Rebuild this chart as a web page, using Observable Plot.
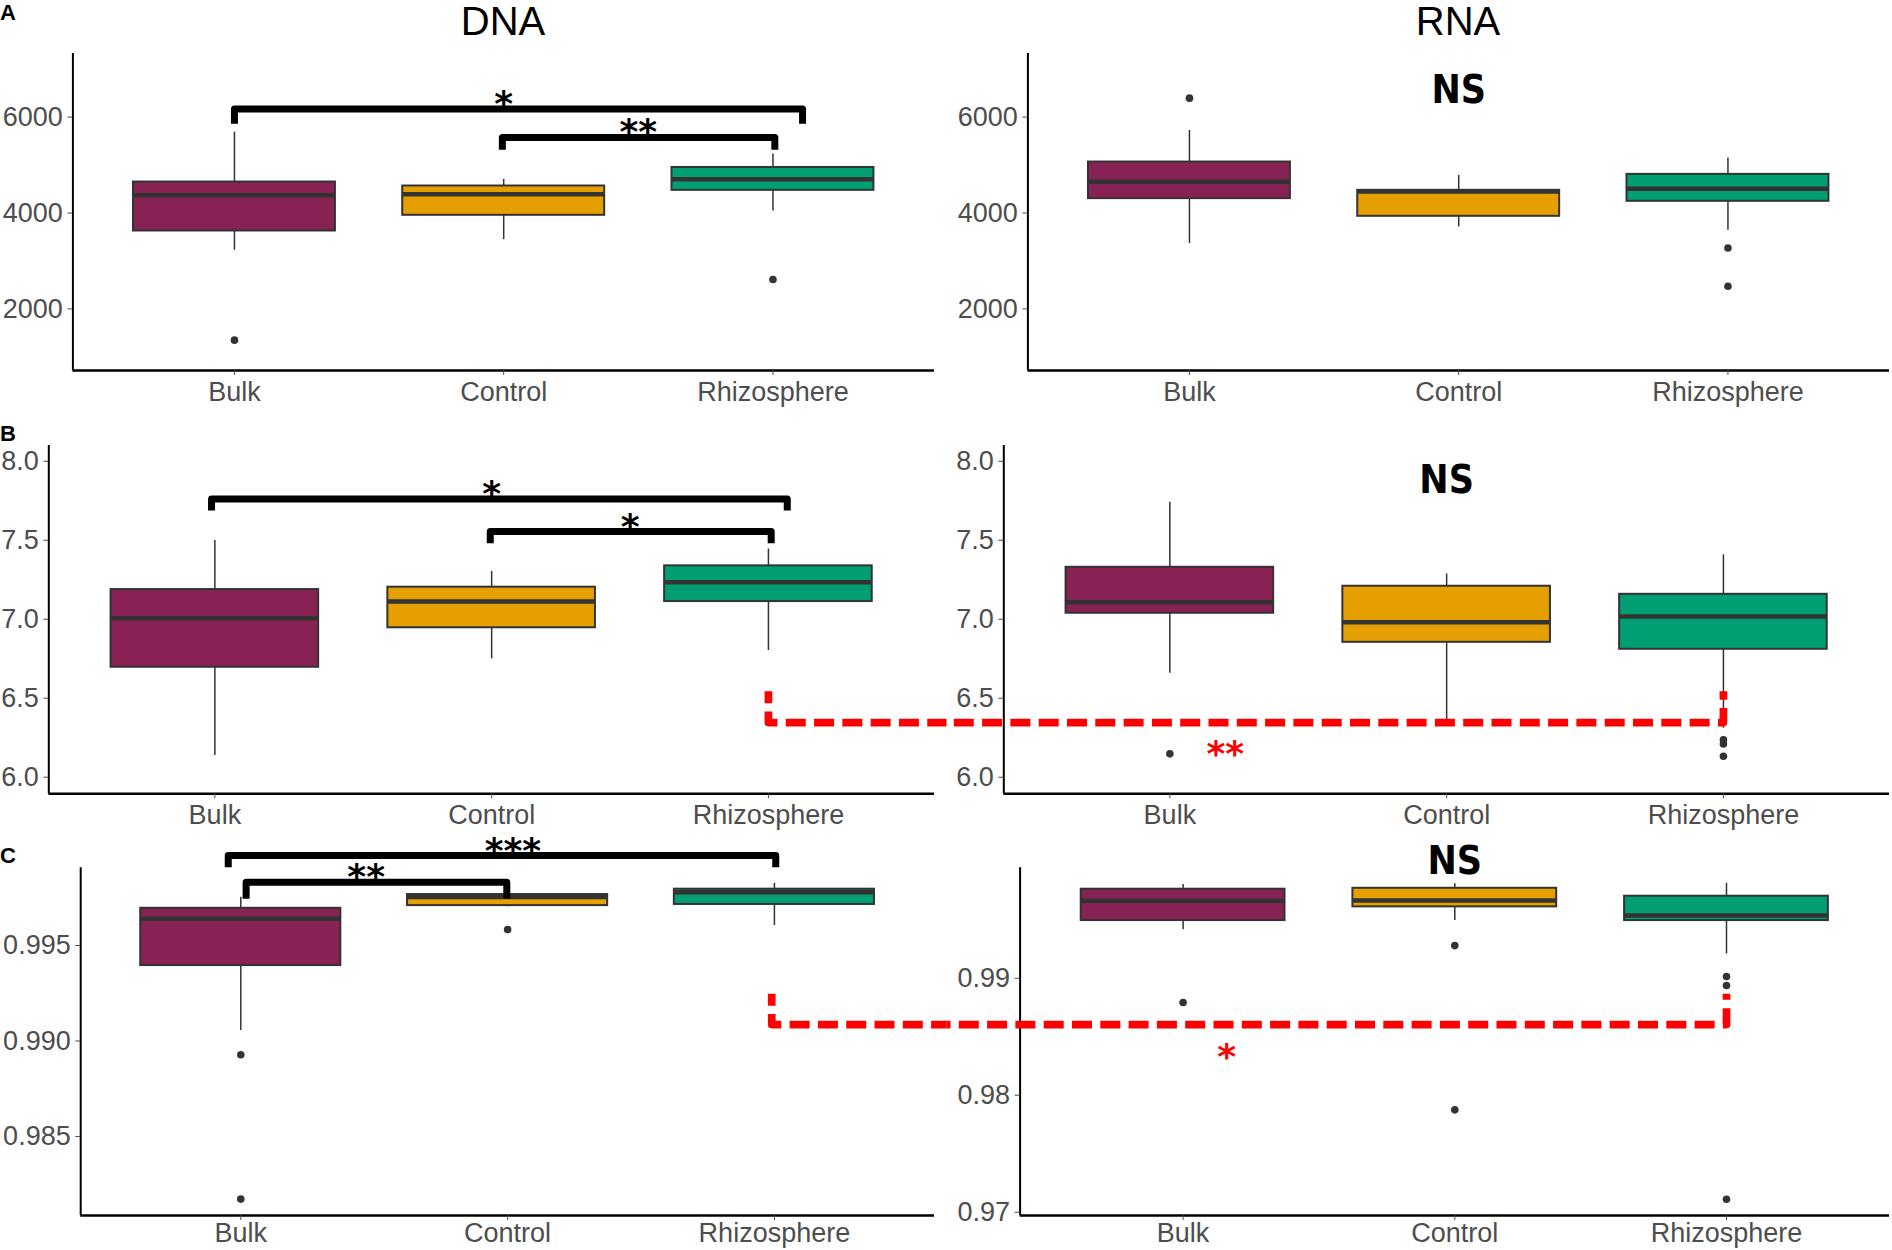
<!DOCTYPE html>
<html><head><meta charset="utf-8">
<script src="https://cdn.jsdelivr.net/npm/d3@7"></script>
<script src="https://cdn.jsdelivr.net/npm/@observablehq/plot@0.6"></script>
<style>
html,body{margin:0;padding:0;background:#fff;}
#fig{position:relative;width:1892px;height:1250px;font-family:"Liberation Sans",Arial,Helvetica,sans-serif;}
.pane{position:absolute;}
.title{position:absolute;font-size:40px;line-height:1;transform:translateX(-50%);color:#000;}
.tag{position:absolute;font-weight:bold;line-height:1;color:#000;font-family:"Liberation Sans",Arial,sans-serif;}
</style></head><body>
<div id="fig"></div>
<script>
// ---------- data ----------
const categories = ["Bulk", "Control", "Rhizosphere"];
const groupColors = ["#882255", "#E69F00", "#009E73"];

// box statistics per category: [lower whisker, Q1, median, Q3, upper whisker]
const aDnaBox = [[3223, 3625, 4369, 4646, 5688], [3446, 3952, 4390, 4563, 4702], [4042, 4473, 4702, 4950, 5230]];
const aDnaOut = [["Bulk", 1348], ["Rhizosphere", 2613]];
const aRnaBox = [[3363, 4300, 4654, 5063, 5723], [3709, 3931, 4446, 4473, 4785], [3639, 4244, 4508, 4806, 5146]];
const aRnaOut = [["Bulk", 6396], ["Rhizosphere", 3271], ["Rhizosphere", 2473]];

const bDnaBox = [[6.137, 6.696, 7.006, 7.188, 7.498], [6.749, 6.946, 7.112, 7.203, 7.302], [6.802, 7.112, 7.234, 7.338, 7.445]];
const bDnaOut = [];
const bRnaBox = [[6.658, 7.038, 7.108, 7.329, 7.741], [6.33, 6.854, 6.981, 7.209, 7.287], [6.31, 6.81, 7.017, 7.158, 7.408]];
const bRnaOut = [["Bulk", 6.148], ["Rhizosphere", 6.237], ["Rhizosphere", 6.211], ["Rhizosphere", 6.133]];

const cDnaBox = [[0.99055, 0.99395, 0.9964, 0.99695, 0.99753], [0.99703, 0.99709, 0.99754, 0.99767, 0.9978], [0.99605, 0.99715, 0.99779, 0.99795, 0.99826]];
const cDnaOut = [["Bulk", 0.98928], ["Bulk", 0.98172], ["Control", 0.99584]];
const cRnaBox = [[0.99414, 0.99493, 0.99662, 0.99761, 0.99801], [0.99493, 0.9961, 0.99665, 0.99769, 0.99807], [0.99208, 0.99493, 0.99536, 0.99701, 0.99812]];
const cRnaOut = [["Bulk", 0.98792], ["Control", 0.99279], ["Control", 0.97875], ["Rhizosphere", 0.99015], ["Rhizosphere", 0.98938], ["Rhizosphere", 0.97111]];

// y axis ticks
const aTicks = [2000, 4000, 6000];
const bTicks = [6.0, 6.5, 7.0, 7.5, 8.0];
const cDnaTicks = [0.985, 0.990, 0.995];
const cRnaTicks = [0.97, 0.98, 0.99];

// significance brackets (in data units)
const aDnaSig = [
  {from: 1.0, to: 3.11, y: 6167, leg: 5862, at: 2.0, label: "*"},
  {from: 1.995, to: 3.007, y: 5577, leg: 5321, at: 2.5, label: "**"}
];
const bDnaSig = [
  {from: 0.988, to: 3.068, y: 7.762, leg: 7.688, at: 2.0, label: "*"},
  {from: 1.995, to: 3.01, y: 7.555, leg: 7.481, at: 2.5, label: "*"}
];
const cDnaSig = [
  {from: 0.953, to: 3.005, y: 0.99971, leg: 0.9991, at: 2.02, label: "***"},
  {from: 1.02, to: 1.997, y: 0.99831, leg: 0.99745, at: 1.47, label: "**"}
];
// "NS" labels for the RNA panels
const aRnaNS = 6546, bRnaNS = 7.879, cRnaNS = 0.99996;
// DNA-vs-RNA rhizosphere links (red dashed)
const bLink = {dna: {x: 3.0, top: 6.544, base: 6.346}, rna: {x: 3.0, top: 6.544, base: 6.346}, label: "**", lx: 1.2, ly: 6.2};
const cLink = {dna: {x: 2.99, top: 0.99247, base: 0.99086}, rna: {x: 3.0, top: 0.98867, base: 0.98604}, label: "*", lx: 1.16, ly: 0.984};

// ---------- drawing ----------
const fig = document.getElementById("fig");
const X0 = 0.4, X1 = 3.6;

function panel(cfg) {
  const {box, out, domain, ticks, fmt, sig = [], ns = null, link = null, side,
         left, top, width, height, mL, mR, mT, mB, dashOffset = 8, xPad = 6} = cfg;
  const rows = box.map((s, i) => ({i: i + 1, low: s[0], q1: s[1], med: s[2], q3: s[3], high: s[4], fill: groupColors[i]}));
  const outs = out.map(([c, v]) => ({i: categories.indexOf(c) + 1, v}));
  const unit = (width - mL - mR) / (X1 - X0);
  const hw = 0.375;
  const marks = [
    Plot.ruleX(rows, {x: "i", y1: "low", y2: "q1", stroke: "#333", strokeWidth: 1.5}),
    Plot.ruleX(rows, {x: "i", y1: "q3", y2: "high", stroke: "#333", strokeWidth: 1.5}),
    Plot.rect(rows, {x1: d => d.i - hw, x2: d => d.i + hw, y1: "q1", y2: "q3", fill: "fill", stroke: "#333", strokeWidth: 2}),
    Plot.ruleY(rows, {y: "med", x1: d => d.i - hw, x2: d => d.i + hw, stroke: "#333", strokeWidth: 4.5}),
    Plot.dot(outs, {x: "i", y: "v", r: 3.8, fill: "#333", stroke: null}),
    Plot.ruleX([X0], {stroke: "#000", strokeWidth: 2}),
    Plot.ruleY([domain[0]], {stroke: "#000", strokeWidth: 2.5}),
    Plot.axisY({ticks, tickFormat: fmt, tickSize: 5, tickPadding: 5, fontSize: 27, color: "#4d4d4d", label: null}),
    Plot.axisX({ticks: [1, 2, 3], tickFormat: i => categories[i - 1], tickSize: 5, tickPadding: xPad, fontSize: 27, color: "#4d4d4d", label: null})
  ];
  if (sig.length) {
    const pts = sig.flatMap((b, k) => [
      {k, x: b.from, y: b.leg}, {k, x: b.from, y: b.y}, {k, x: b.to, y: b.y}, {k, x: b.to, y: b.leg}]);
    marks.push(Plot.line(pts, {x: "x", y: "y", z: "k", stroke: "#000", strokeWidth: 7, strokeLinejoin: "round", strokeLinecap: "butt"}));
    marks.push(Plot.text(sig, {x: "at", y: "y", text: "label", dy: -4.5, fontSize: 36, fontWeight: "bold", fontFamily: "DejaVu Sans", fill: "#000"}));
  }
  if (ns !== null) {
    marks.push(Plot.text([ns], {x: 2, y: d => d, text: () => "NS", fontSize: 39, fontWeight: "bold",
      fontFamily: "'Liberation Sans Narrow', 'DejaVu Sans Condensed', 'Liberation Sans', sans-serif", fill: "#000"}));
  }
  if (link) {
    let pts;
    if (side === "dna") {
      const s = link.dna, xe = X1 + mR / unit;
      pts = [{x: s.x, y: s.top}, {x: s.x, y: s.base}, {x: xe, y: s.base}];
    } else {
      const s = link.rna, xs = X0 - mL / unit;
      pts = [{x: xs, y: s.base}, {x: s.x, y: s.base}, {x: s.x, y: s.top}];
    }
    marks.push(Plot.line(pts, {x: "x", y: "y", stroke: "#ff0000", strokeWidth: 7.7, strokeDasharray: "20,8.3",
      strokeDashoffset: dashOffset, strokeLinejoin: "round", strokeLinecap: "butt"}));
    if (side === "rna") {
      marks.push(Plot.text([link], {x: "lx", y: "ly", text: "label", dy: 8.7, fontSize: 36, fontWeight: "bold", fontFamily: "DejaVu Sans", fill: "#ff0000"}));
    }
  }
  const svg = Plot.plot({
    width, height, marginLeft: mL, marginRight: mR, marginTop: mT, marginBottom: mB,
    x: {type: "linear", domain: [X0, X1], axis: null},
    y: {type: "linear", domain, axis: null},
    color: {type: "identity"},
    style: {fontFamily: "'Liberation Sans', Arial, Helvetica, sans-serif", background: "transparent", overflow: "visible"},
    marks
  });
  const wrap = document.createElement("div");
  wrap.className = "pane";
  wrap.style.left = left + "px";
  wrap.style.top = top + "px";
  wrap.appendChild(svg);
  fig.appendChild(wrap);
}

const fmtInt = d => String(d);
const fmt1 = d3.format(".1f"), fmt2 = d3.format(".2f"), fmt3 = d3.format(".3f");
const aDomain = [715, 7327], bDomain = [5.895, 8.1];

// Row A
panel({box: aDnaBox, out: aDnaOut, domain: aDomain, ticks: aTicks, fmt: fmtInt, sig: aDnaSig,
  left: 0, top: 40, width: 946, height: 380, mL: 72.4, mR: 12, mT: 13, mB: 50});
panel({box: aRnaBox, out: aRnaOut, domain: aDomain, ticks: aTicks, fmt: fmtInt, ns: aRnaNS,
  left: 946, top: 40, width: 946, height: 380, mL: 81.4, mR: 3, mT: 13, mB: 50});
// Row B
panel({box: bDnaBox, out: bDnaOut, domain: bDomain, ticks: bTicks, fmt: fmt1, sig: bDnaSig, link: bLink, side: "dna",
  left: 0, top: 420, width: 946, height: 420, mL: 48.3, mR: 12, mT: 25, mB: 46.7, dashOffset: 8});
panel({box: bRnaBox, out: bRnaOut, domain: bDomain, ticks: bTicks, fmt: fmt1, ns: bRnaNS, link: bLink, side: "rna",
  left: 946, top: 420, width: 946, height: 420, mL: 57.3, mR: 3, mT: 25, mB: 46.7, dashOffset: 21});
// Row C
panel({box: cDnaBox, out: cDnaOut, domain: [0.98086, 0.99907], ticks: cDnaTicks, fmt: fmt3, sig: cDnaSig, link: cLink, side: "dna",
  left: 0, top: 825, width: 946, height: 425, mL: 80.2, mR: 12, mT: 42.3, mB: 35, dashOffset: 8, xPad: 2});
panel({box: cRnaBox, out: cRnaOut, domain: [0.96972, 0.99944], ticks: cRnaTicks, fmt: fmt2, ns: cRnaNS, link: cLink, side: "rna",
  left: 946, top: 825, width: 946, height: 425, mL: 73.6, mR: 3, mT: 42.3, mB: 35, dashOffset: 16, xPad: 2});

// titles and panel tags
function addDiv(cls, text, left, top, size) {
  const d = document.createElement("div");
  d.className = cls; d.textContent = text;
  d.style.left = left + "px"; d.style.top = top + "px";
  if (size) d.style.fontSize = size + "px";
  fig.appendChild(d);
}
addDiv("title", "DNA", 503, 1);
addDiv("title", "RNA", 1458, 1);
addDiv("tag", "A", 0, 2, 22);
addDiv("tag", "B", 0, 423, 22);
addDiv("tag", "C", 0, 845, 22);
</script>
</body></html>
